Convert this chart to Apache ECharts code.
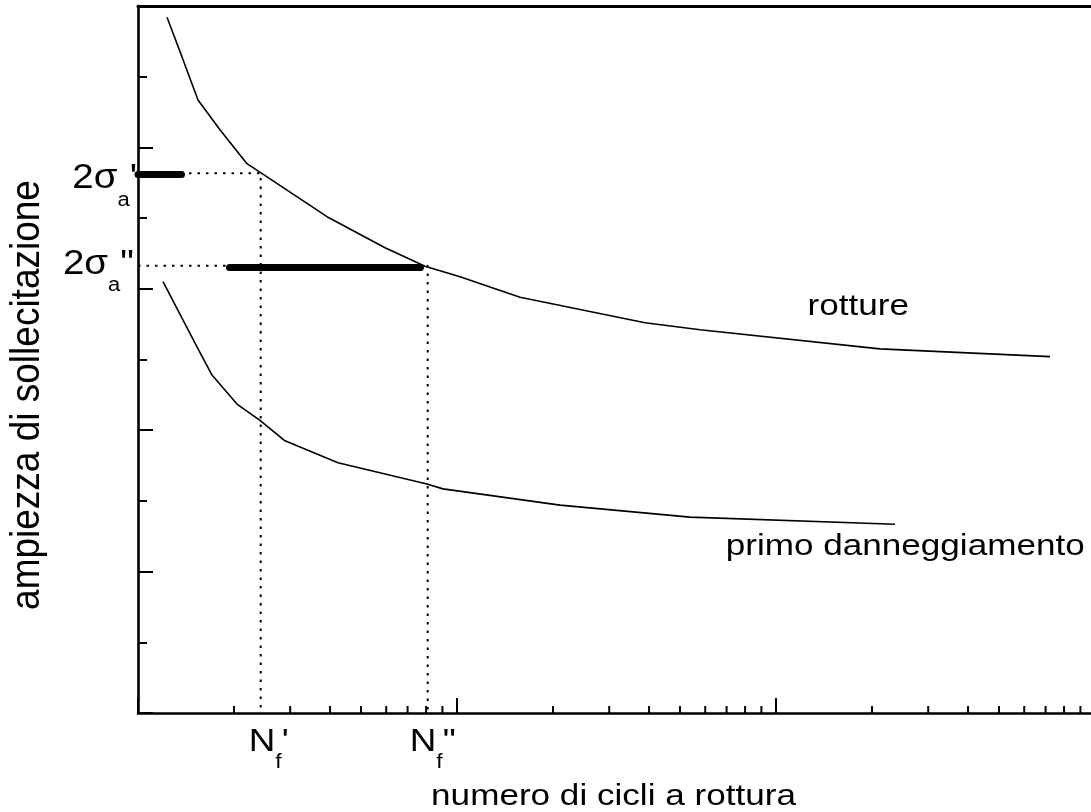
<!DOCTYPE html>
<html>
<head>
<meta charset="utf-8">
<script src="https://cdn.jsdelivr.net/npm/echarts@6/dist/echarts.min.js"></script>
<style>
  html, body { margin: 0; padding: 0; background: #fff; }
  #chart { width: 1091px; height: 812px; }
</style>
</head>
<body>
<div id="chart"></div>
<script>
// ---- data ----
const rottureN = [1233, 1374, 1542, 1807, 2196, 2430, 3913, 5950, 7940, 10220, 15760, 38850, 57800, 211800, 722600];
const rottureS = [9.84, 9.28, 8.67, 8.25, 7.77, 7.64, 7.02, 6.58, 6.32, 6.17, 5.88, 5.52, 5.42, 5.15, 5.04];
const dannN = [1198, 1531, 1706, 2043, 2412, 2889, 4236, 8050, 9040, 21030, 53700, 236000];
const dannS = [6.10, 5.18, 4.78, 4.37, 4.14, 3.85, 3.54, 3.24, 3.17, 2.94, 2.77, 2.67];
const levelS = [7.634, 6.327];          // 2σa', 2σa''
const levelN = [2425, 8093];            // Nf', Nf''
const barS = [7.615, 6.30];             // thick bars (scatter bands)
const barFrom = [1000, 1936];
const barTo = [1369, 7680];
const xMinorTicks = [2000, 3000, 4000, 5000, 6000, 7000, 8000, 9000,
  20000, 30000, 40000, 50000, 60000, 70000, 80000, 90000,
  200000, 300000, 400000, 500000, 600000, 700000, 800000, 900000];
const xMin = 1000, xMax = 1000000, yMin = 0, yMax = 10;
const sigmaLabels = ["'", '"'];
const nLabels = ["'", '"'];
const curveNames = ['rotture', 'primo danneggiamento'];
const xTitle = 'numero di cicli a rottura';
const yTitle = 'ampiezza di sollecitazione';

const FONT = '"Liberation Sans", Arial, Helvetica, sans-serif';
const chart = echarts.init(document.getElementById('chart'), null, { renderer: 'canvas' });

const zip = (a, b) => a.map((v, i) => [v, b[i]]);
const series = [];
// thick bars (scatter bands): filled rounded rectangles, drawn above the dotted guides
series.push({ type: 'custom', silent: true, z: 6,
  data: barS.map((s, i) => [barFrom[i], barTo[i], s]),
  renderItem: function (params, api) {
    const a = api.coord([api.value(0), api.value(2)]);
    const b = api.coord([api.value(1), api.value(2)]);
    const h = 7;
    return { type: 'rect',
      shape: { x: a[0] - h / 2, y: a[1] - h / 2, width: b[0] - a[0] + h, height: h, r: h / 2 },
      style: { fill: '#000', stroke: null } };
  } });
series.push({ type: 'line', data: zip(rottureN, rottureS), symbol: 'none', silent: true,
  lineStyle: { color: '#000', width: 1.6, type: 'solid' }, z: 3 });
series.push({ type: 'line', data: zip(dannN, dannS), symbol: 'none', silent: true,
  lineStyle: { color: '#000', width: 1.6, type: 'solid' }, z: 3 });
levelS.forEach((s, i) => {
  series.push({ type: 'line', symbol: 'none', silent: true,
    data: [[xMin, s], [levelN[i], s], [levelN[i], yMin]],
    lineStyle: { color: '#000', width: 2, type: [2.5, 6] }, z: 2 });
});
series.push({ type: 'custom', silent: true, data: xMinorTicks.map(v => [v, yMin]), z: 5,
  renderItem: function (params, api) {
    const p = api.coord([api.value(0), api.value(1)]);
    return { type: 'line', shape: { x1: p[0], y1: p[1], x2: p[0], y2: p[1] - 7 },
      style: { stroke: '#000', lineWidth: 2 } };
  } });

const option = {
  animation: false,
  backgroundColor: '#fff',
  grid: { left: 138, top: 6, width: 957, height: 707, outerBoundsMode: 'none', containLabel: false },
  xAxis: [{
    type: 'log', logBase: 10, min: xMin, max: xMax,
    axisLine: { onZero: false, lineStyle: { color: '#000', width: 2.6 } },
    axisTick: { show: true, inside: true, length: 15, lineStyle: { color: '#000', width: 2 } },
    minorTick: { show: false },
    axisLabel: { show: false }, splitLine: { show: false }
  }, {
    type: 'value', position: 'top', min: 0, max: 1,
    axisLine: { show: true, onZero: false, lineStyle: { color: '#000', width: 3 } },
    axisTick: { show: false }, axisLabel: { show: false }, splitLine: { show: false }
  }],
  yAxis: [{
    type: 'value', min: yMin, max: yMax, interval: 2,
    axisLine: { show: true, onZero: false, lineStyle: { color: '#000', width: 2.6 } },
    axisTick: { show: true, inside: true, length: 15, lineStyle: { color: '#000', width: 2 } },
    minorTick: { show: true, splitNumber: 2, length: 9, lineStyle: { color: '#000', width: 2 } },
    axisLabel: { show: false }, splitLine: { show: false }, minorSplitLine: { show: false }
  }],
  series: series
};
chart.setOption(option);

// ---- text annotations, placed through the chart's own coordinate conversion ----
const px = v => chart.convertToPixel({ gridIndex: 0 }, v);
const graphics = [];
levelS.forEach((s, i) => {
  const p = px([xMin, s]);
  const dx = i === 0 ? -1 : -4;
  const dy = i === 0 ? 5.4 : -1.7;
  graphics.push({ type: 'text', x: p[0] + dx, y: p[1] + dy, scaleX: 1.1, silent: true,
    style: { text: '{m|2σ}{s|a}{m|' + sigmaLabels[i] + '}', align: 'right', verticalAlign: 'middle', fill: '#000',
      rich: { m: { fontSize: 35, fontFamily: FONT, fill: '#000' },
              s: { fontSize: 20, fontFamily: FONT, fill: '#000', padding: [44, 0, 0, 0] } } } });
});
levelN.forEach((n, i) => {
  const p = px([n, yMin]);
  const dx = i === 0 ? 8 : 5;
  graphics.push({ type: 'text', x: p[0] + dx, y: p[1] + 28.8, scaleX: 1.15, silent: true,
    style: { text: '{m|N}{s|f}{m|' + nLabels[i] + '}', align: 'center', verticalAlign: 'middle', fill: '#000',
      rich: { m: { fontSize: 32, fontFamily: FONT, fill: '#000' },
              s: { fontSize: 20, fontFamily: FONT, fill: '#000', padding: [42, 0, 0, 0] } } } });
});
graphics.push({ type: 'text', x: 807.6, y: 307, scaleX: 1.17, silent: true,
  style: { text: curveNames[0], fontSize: 30, fontFamily: FONT, fill: '#000', align: 'left', verticalAlign: 'middle' } });
graphics.push({ type: 'text', x: 725.7, y: 547, scaleX: 1.17, silent: true,
  style: { text: curveNames[1], fontSize: 30, fontFamily: FONT, fill: '#000', align: 'left', verticalAlign: 'middle' } });
graphics.push({ type: 'text', x: 613.5, y: 797, scaleX: 1.17, silent: true,
  style: { text: xTitle, fontSize: 30, fontFamily: FONT, fill: '#000', align: 'center', verticalAlign: 'middle' } });
graphics.push({ type: 'text', x: 28, y: 395, rotation: Math.PI / 2, scaleY: 1.08, silent: true,
  style: { text: yTitle, fontSize: 37, fontFamily: FONT, fill: '#000', align: 'center', verticalAlign: 'middle' } });
chart.setOption({ graphic: graphics });
</script>
</body>
</html>
